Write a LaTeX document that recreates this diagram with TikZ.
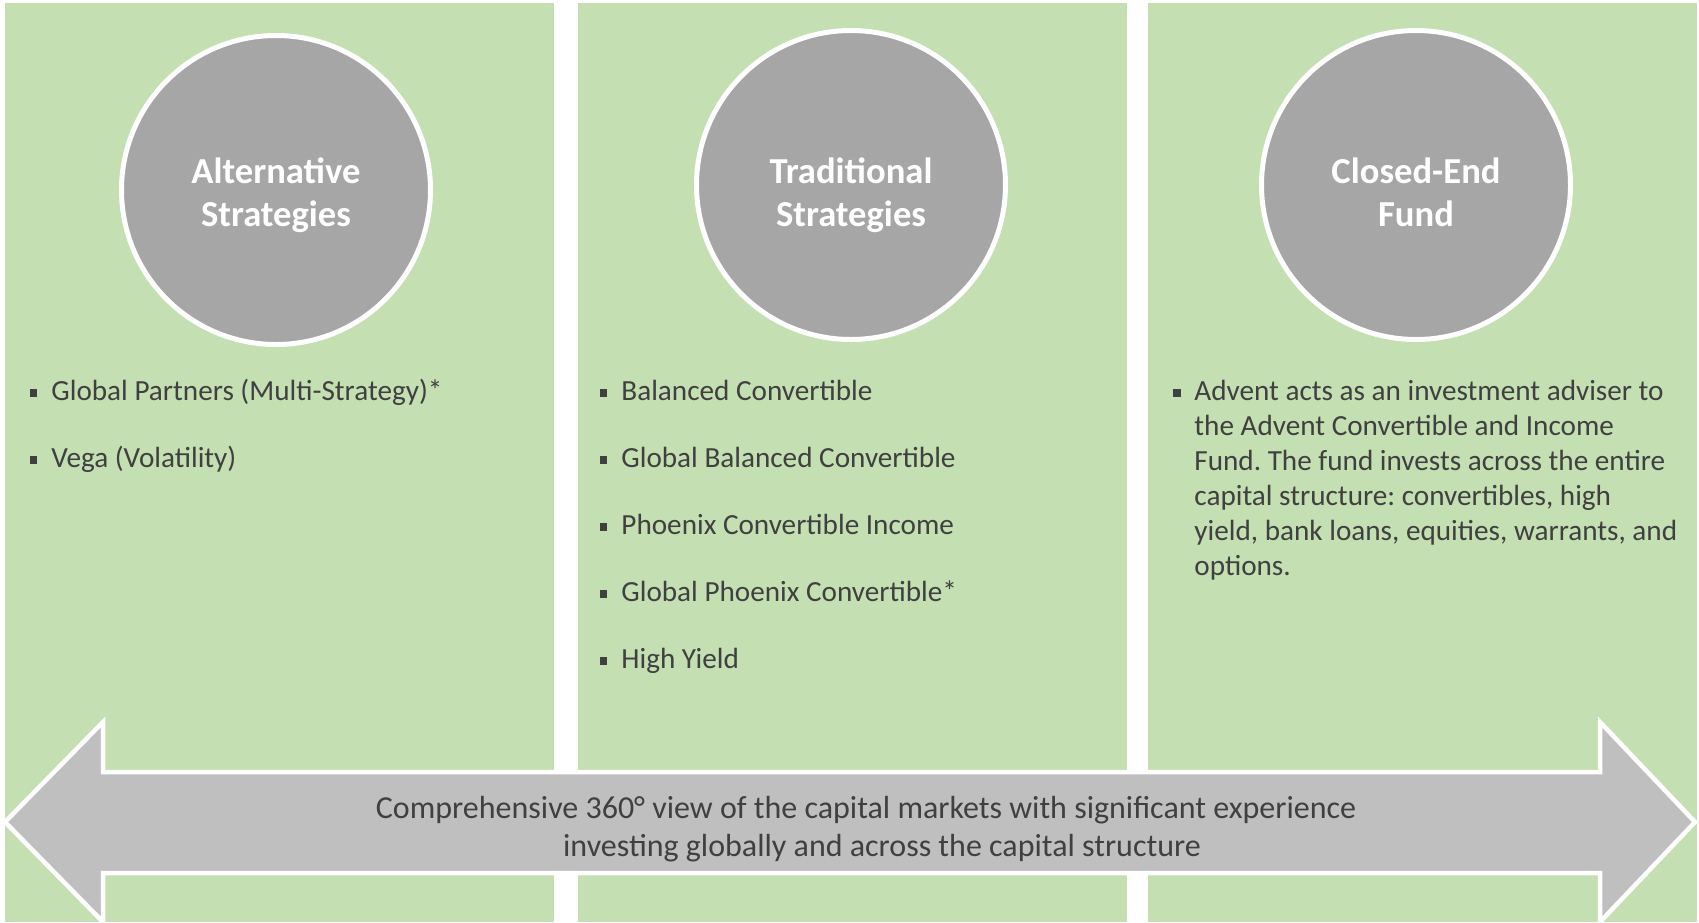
\documentclass[tikz,border=0pt]{standalone}
\usepackage{fontspec}
\setmainfont{Carlito}
\usepackage{xcolor}
\usetikzlibrary{shapes,arrows,positioning}

\definecolor{panelgreen}{HTML}{C4DFB2}
\definecolor{hubgrey}{HTML}{A6A6A6}
\definecolor{bandgrey}{HTML}{BFBFBF}
\definecolor{textgrey}{HTML}{404040}

\begin{document}
\begin{tikzpicture}[x=0.5pt, y=-0.5pt, label distance=6.6pt]
        \tikzstyle{panel} = [rectangle, fill=panelgreen, minimum width=274.5pt, minimum height=459.5pt, inner sep=0pt, anchor=north west]
        \tikzstyle{hub} = [circle, draw=white, line width=2.5pt, fill=hubgrey, minimum size=154.5pt, inner sep=0pt]
        \tikzstyle{hubtext} = [text=white, align=center, font=\fontsize{18.3}{21.3}\selectfont\bfseries]
        \tikzstyle{sq} = [rectangle, fill=textgrey, minimum size=3.7pt, inner sep=0pt]
        \tikzstyle{item} = [anchor=base west, inner sep=0pt, text=textgrey, text height=10pt, text depth=3pt, font=\fontsize{14.6}{17.5}\selectfont, label={[sq]left:{}}]
        \tikzstyle{band} = [fill=bandgrey, draw=white, line width=2.25pt, line join=miter]

    \useasboundingbox (0,0) rectangle (1699,922);
    \fill[white] (0,0) rectangle (1699,922);

    % three columns
    \node [panel] (alt panel) at (5,3) {};
    \node [panel] (trad panel) at (578,3) {};
    \node [panel] (fund panel) at (1148,3) {};

    \node [hub] (alt hub) at (276,190) {};
    \node [hub] (trad hub) at (851,185) {};
    \node [hub] (fund hub) at (1416,185) {};
    \node [hubtext] (alt title) at (276,195) {Alternative\\Strategies};
    \node [hubtext] (trad title) at (851,195) {Traditional\\Strategies};
    \node [hubtext] (fund title) at (1416,195) {Closed-End\\Fund\vphantom{g}};

    % strategy lists
    \node [item] (global partners) at (51,400) {Global Partners (Multi-Strategy)*};
    \node [item, below=33.5pt of global partners.base west, anchor=base west] (vega) {Vega (Volatility)};

    \node [item] (balanced) at (621,400) {Balanced Convertible};
    \node [item, below=33.5pt of balanced.base west, anchor=base west] (global balanced) {Global Balanced Convertible};
    \node [item, below=33.5pt of global balanced.base west, anchor=base west] (phoenix) {Phoenix Convertible Income};
    \node [item, below=33.5pt of phoenix.base west, anchor=base west] (global phoenix) {Global Phoenix Convertible*};
    \node [item, below=33.5pt of global phoenix.base west, anchor=base west] (high yield) {High Yield};

    \node [anchor=base west, inner sep=0pt, text=textgrey, text width=252pt, align=flush left, font=\fontsize{14.6}{17.5}\selectfont\frenchspacing] (adviser) at (1194,400)
        {Advent acts as an investment adviser to\\the Advent Convertible and Income\\Fund. The fund invests across the entire\\capital structure: convertibles, high\\yield, bank loans, equities, warrants, and\\options.};
    \node [sq] at ([xshift=-8.5pt, yshift=3.6pt]adviser.base west) {};

    % double arrow across the bottom
    \draw [band] (5,822) -- (103,722) -- (103,772) -- (1600,772) -- (1600,722) -- (1695,822)
        -- (1600,922) -- (1600,873) -- (103,873) -- (103,922) -- cycle;
    \node [text=textgrey, align=center, font=\fontsize{16}{19}\selectfont] (view) at (874,829)
        {Comprehensive 360° view of the capital markets with significant experience\hspace*{8pt}\\\hspace*{8pt}investing globally and across the capital structure};

    \end{tikzpicture}
\end{document}
